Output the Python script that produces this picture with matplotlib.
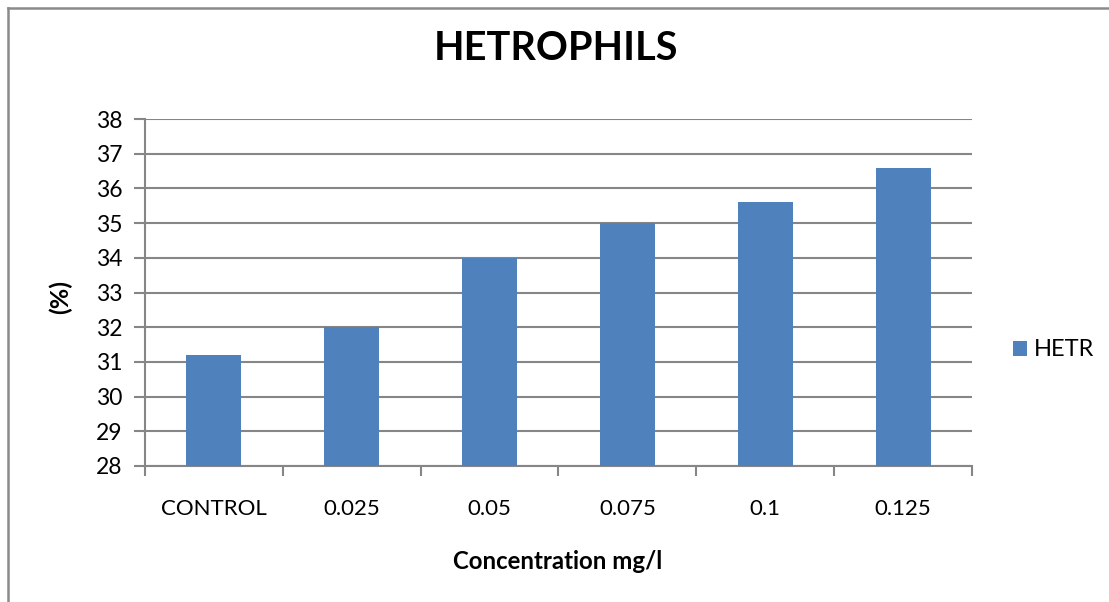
import matplotlib.pyplot as plt
from matplotlib.lines import Line2D
import numpy as np

categories = ["CONTROL", "0.025", "0.05", "0.075", "0.1", "0.125"]
hetr = [31.2, 32.0, 34.0, 35.0, 35.6, 36.6]
yticks = list(range(28, 39))

plt.rcParams['font.family'] = ['Lato', 'DejaVu Sans']

W, H = 1109, 602
fig = plt.figure(figsize=(W / 100, H / 100), dpi=100)
ax = fig.add_axes([145 / W, 1 - 466 / H, (972 - 145) / W, (466 - 119) / H])

x = np.arange(len(categories))
ax.bar(x, hetr, width=0.4, color="#4f81bd", label="HETR", zorder=3)

ax.set_xlim(-0.5, len(categories) - 0.5)
ax.set_ylim(28, 38)
ax.set_yticks(yticks)
ax.set_yticklabels([str(v) for v in yticks], fontsize=16.5)
ax.yaxis.grid(True, color="#868686", linewidth=1.5, zorder=0)

# category labels centred, tick marks on the category boundaries
ax.set_xticks(x)
ax.set_xticklabels(categories, fontsize=16)
ax.tick_params(axis="x", length=0, pad=24)
ax.set_xticks(np.arange(-0.5, len(categories)), minor=True)
ax.tick_params(axis="x", which="minor", length=7, width=1.5, color="#868686")
ax.tick_params(axis="y", length=8, width=1.5, color="#868686", pad=8)

for side in ["top", "right"]:
    ax.spines[side].set_visible(False)
for side in ["left", "bottom"]:
    ax.spines[side].set_color("#868686")
    ax.spines[side].set_linewidth(1.5)

fig.text(556 / W, 1 - 60 / H, "HETROPHILS", fontsize=28.5, fontweight="bold",
         ha="center", va="baseline")
fig.text(60 / W, 1 - 297 / H, "(%)", fontsize=18, fontweight="bold",
         rotation=90, ha="center", va="center")
fig.text(558 / W, 1 - 569 / H, "Concentration mg/l", fontsize=17.3,
         fontweight="bold", ha="center", va="baseline")

ax.legend(loc="center left", bbox_to_anchor=(1013 / W, 1 - 350 / H),
          bbox_transform=fig.transFigure, borderaxespad=0, borderpad=0,
          frameon=False, fontsize=17, handlelength=0.6, handleheight=0.6,
          handletextpad=0.3)

# outer frame of the chart area
fig.add_artist(Line2D([8 / W, 8 / W], [0, 1 - 8 / H], color="#8a8a8a", linewidth=1.8))
fig.add_artist(Line2D([8 / W, 1], [1 - 8 / H, 1 - 8 / H], color="#8a8a8a", linewidth=1.8))

# clipped text line above the frame
fig.text(0, 1 - 2 / H, "the mean value.", fontsize=12, family="Liberation Serif",
         ha="left", va="bottom")

fig.savefig("out.png", dpi=100)
